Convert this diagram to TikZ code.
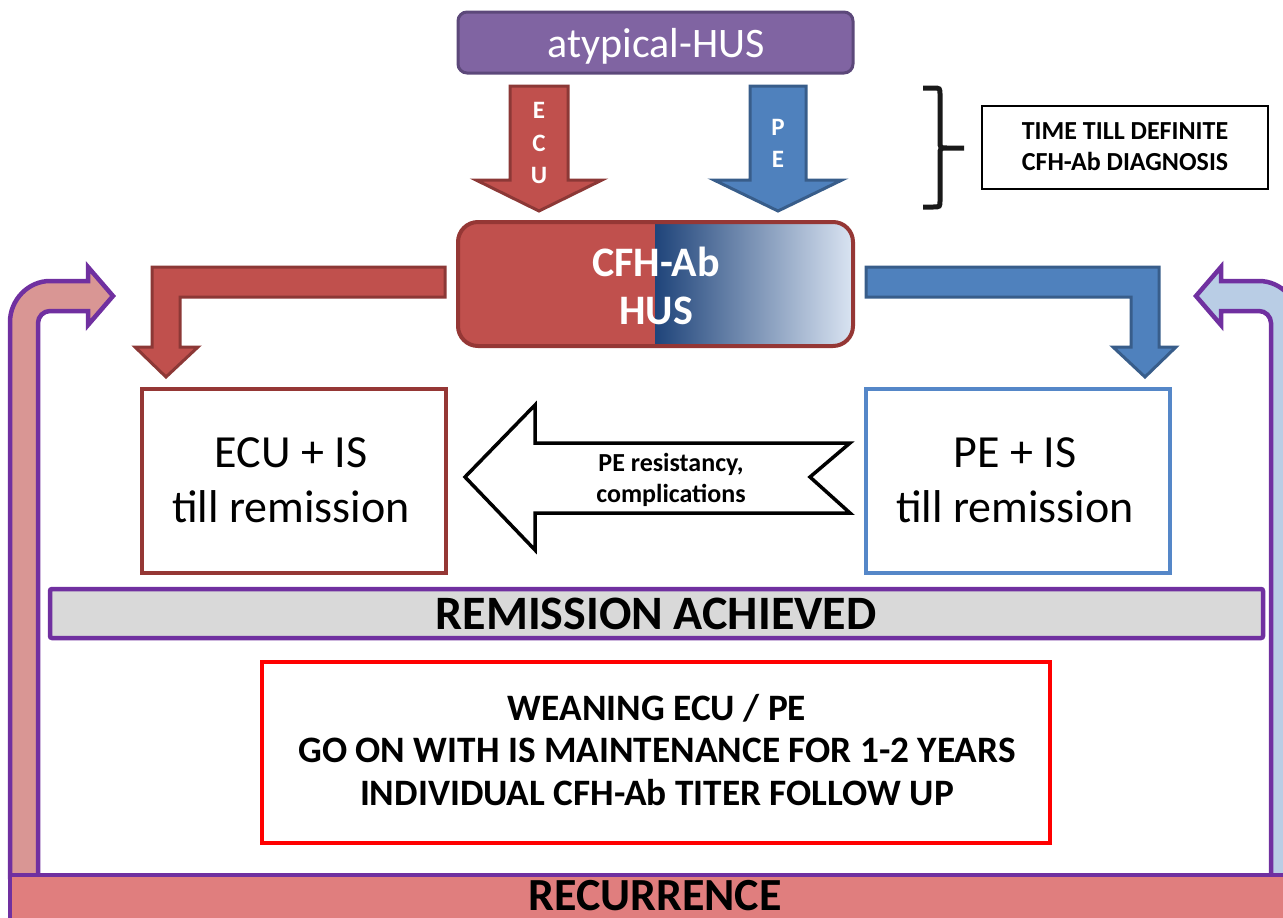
\documentclass[tikz,border=0pt]{standalone}
\usepackage{fontspec}
\setmainfont{Carlito}
\definecolor{hpurple}{RGB}{128,100,162}
\definecolor{hpurpleD}{RGB}{92,72,122}
\definecolor{hred}{RGB}{192,80,77}
\definecolor{hredD}{RGB}{140,56,54}
\definecolor{hblue}{RGB}{79,129,189}
\definecolor{hblueD}{RGB}{56,93,138}
\definecolor{boxred}{RGB}{149,55,53}
\definecolor{boxblue}{RGB}{85,135,200}
\definecolor{recpur}{RGB}{112,48,160}
\definecolor{recpink}{RGB}{217,150,148}
\definecolor{reclblue}{RGB}{185,205,229}
\definecolor{barpink}{RGB}{224,126,126}
\definecolor{bargray}{RGB}{217,217,217}
\definecolor{gnavy}{RGB}{31,68,122}
\definecolor{gpale}{RGB}{218,228,242}
\begin{document}
\begin{tikzpicture}[x=1pt,y=-1pt,
  plainbox/.style={inner sep=0pt, outer sep=0pt},
  txt/.style={anchor=base, inner sep=0pt},
  blockarrow/.style={line width=3pt, line join=miter},
  recarrow/.style={draw=recpur, line width=4.5pt, line join=miter},
  fReg/.style={font=\fontsize{#1}{#1}\selectfont},
  fBold/.style={font=\fontsize{#1}{#1}\selectfont\bfseries}]
\useasboundingbox (0,0) rectangle (1283,918);
\clip (0,0) rectangle (1283,918);

% recurrence arrows
\draw[recarrow, fill=recpink] (10,877) -- (10,322) .. controls (10,300) and (28,281) .. (50,281) -- (88,281) -- (88,267) -- (113,296) -- (88,325) -- (88,311) -- (50,311) .. controls (43.4,311) and (38,316.6) .. (38,323) -- (38,877) -- cycle;
\draw[recarrow, fill=reclblue] (1299,877) -- (1299,322) .. controls (1299,300) and (1281,281) .. (1259,281) -- (1221,281) -- (1221,267) -- (1196,296) -- (1221,325) -- (1221,311) -- (1259,311) .. controls (1265.6,311) and (1271,316.6) .. (1271,323) -- (1271,877) -- cycle;

% recurrence bar
\node[plainbox, draw=recpur, fill=barpink, line width=4.5pt, minimum width=1290, minimum height=60] (recbar) at (655,905) {};
\node[txt, fBold=46] (rect) at (655,910) {RECURRENCE};

% atypical-HUS
\node[plainbox, draw=hpurpleD, fill=hpurple, line width=3pt, rounded corners=9pt, minimum width=395, minimum height=61] (atyp) at (655.5,42.5) {};
\node[txt, fReg=42, text=white] (atypt) at (656,57) {atypical-HUS};

% ECU / PE down arrows
\draw[blockarrow, draw=hredD, fill=hred] (510,86) -- (568,86) -- (568,180) -- (602,180) -- (539,211) -- (476,180) -- (510,180) -- cycle;
\draw[blockarrow, draw=hblueD, fill=hblue] (750,86) -- (806,86) -- (806,180) -- (842,180) -- (778,211) -- (714,180) -- (750,180) -- cycle;
\node[txt, fBold=25, text=white] (e1) at (539,118) {E};
\node[txt, fBold=25, text=white] (e2) at (539,151) {C};
\node[txt, fBold=25, text=white] (e3) at (539,183) {U};
\node[txt, fBold=25, text=white] (p1) at (778,135) {P};
\node[txt, fBold=25, text=white] (p2) at (778,167) {E};

% brace and time box
\draw[line width=5pt, color=black!90] (923,88) -- (933,88) .. controls (940,88) .. (940,95) -- (940,141) .. controls (940,148) .. (947,148) -- (964,148) (947,148) .. controls (940,148) .. (940,155) -- (940,200) .. controls (940,207) .. (933,207) -- (923,207);
\node[plainbox, draw=black, line width=1.8pt, minimum width=286, minimum height=83] (timebox) at (1125,147.5) {};
\node[txt, fBold=26] (time1) at (1125,139) {TIME TILL DEFINITE};
\node[txt, fBold=26] (time2) at (1125,170) {CFH-Ab DIAGNOSIS};

% CFH-Ab HUS box
\begin{scope}
\clip[rounded corners=20pt] (458,222) rectangle (853,346);
\fill[hred] (458,222) rectangle (655,346);
\shade[left color=gnavy, right color=gpale] (655,222) rectangle (853,346);
\end{scope}
\node[plainbox, draw=boxred, line width=4pt, rounded corners=20pt, minimum width=395, minimum height=124] (cfh) at (655.5,284) {};
\node[txt, fBold=42, text=white] (cfh1) at (656,276) {CFH-Ab};
\node[txt, fBold=42, text=white] (cfh2) at (656,324) {HUS};

% bent arrows
\draw[blockarrow, draw=hredD, fill=hred] (445,267) -- (152,267) -- (152,347) -- (135,347) -- (166,377) -- (198,347) -- (180,347) -- (180,297) -- (445,297) -- cycle;
\draw[blockarrow, draw=hblueD, fill=hblue] (866,267) -- (1159,267) -- (1159,347) -- (1176,347) -- (1145,377) -- (1113,347) -- (1131,347) -- (1131,297) -- (866,297) -- cycle;

% treatment boxes
\node[plainbox, draw=boxred, line width=4pt, minimum width=304, minimum height=184] (ecubox) at (294,481) {};
\node[txt, fReg=46] (ecu1) at (291,467) {ECU + IS};
\node[txt, fReg=46] (ecu2) at (291,522) {till remission};
\node[plainbox, draw=boxblue, line width=4pt, minimum width=304, minimum height=184] (pebox) at (1018,481) {};
\node[txt, fReg=46] (pe1) at (1015,467) {PE + IS};
\node[txt, fReg=46] (pe2) at (1015,522) {till remission};

% middle arrow
\draw[line width=3.5pt, line join=miter, draw=black, fill=white] (465,477) -- (535,405) -- (535,443) -- (850,443) -- (810,477) -- (850,513) -- (535,513) -- (535,550) -- cycle;
\node[txt, fBold=26] (mid1) at (671,471) {PE resistancy,};
\node[txt, fBold=26] (mid2) at (671,502) {complications};

% remission bar
\node[plainbox, draw=recpur, fill=bargray, line width=4.5pt, rounded corners=2pt, minimum width=1213, minimum height=49] (rembar) at (656.5,613.5) {};
\node[txt, fBold=48] (remt) at (656,629) {REMISSION ACHIEVED};

% red box
\node[plainbox, draw=red, line width=4.5pt, minimum width=788, minimum height=181] (redbox) at (656,752.5) {};
\node[txt, fBold=37.3] (r1) at (657,720) {WEANING ECU / PE};
\node[txt, fBold=37.3] (r2) at (657,762) {GO ON WITH IS MAINTENANCE FOR 1-2 YEARS};
\node[txt, fBold=37.3] (r3) at (657,805) {INDIVIDUAL CFH-Ab TITER FOLLOW UP};
\end{tikzpicture}
\end{document}
